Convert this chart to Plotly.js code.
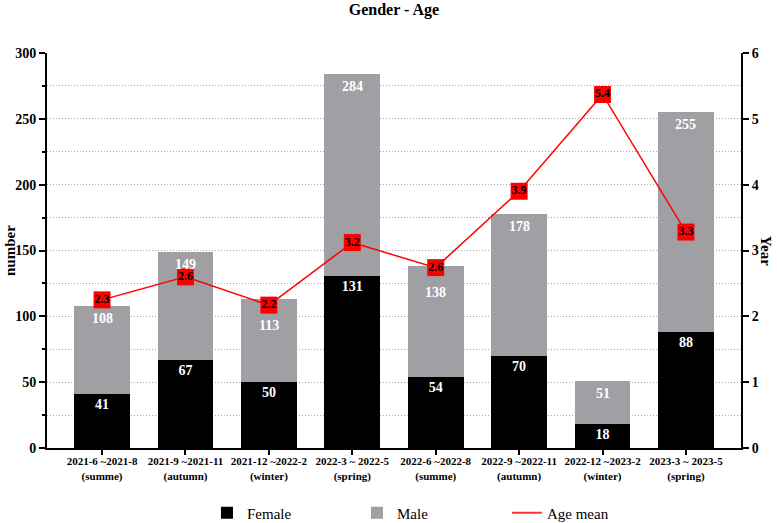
<!DOCTYPE html>
<html>
<head>
<meta charset="utf-8">
<script src="https://cdn.plot.ly/plotly-3.0.1.min.js"></script>
<style>html,body{margin:0;padding:0;background:#fff}#chart{width:777px;height:523px}</style>
</head>
<body>
<div id="chart"></div>
<script>
const categories = [
  "2021-6 ~2021-8<br>(summe)",
  "2021-9 ~2021-11<br>(autumn)",
  "2021-12 ~2022-2<br>(winter)",
  "2022-3 ~ 2022-5<br>(spring)",
  "2022-6 ~2022-8<br>(summe)",
  "2022-9 ~2022-11<br>(autumn)",
  "2022-12 ~2023-2<br>(winter)",
  "2023-3 ~ 2023-5<br>(spring)"
];
const female = [41, 67, 50, 131, 54, 70, 18, 88];
const total = [108, 149, 113, 284, 138, 178, 51, 255];
const ageMean = [2.25, 2.6, 2.17, 3.12, 2.74, 3.9, 5.37, 3.28];
const ageLabels = ["2.3", "2.6", "2.2", "3.2", "2.6", "3.9", "5.4", "3.3"];

const male = total.map((t, i) => t - female[i]);
const xIdx = categories.map((c, i) => i);
const FONT = "Liberation Serif, Times New Roman, serif";

// total labels sit inside the top of each bar; two are pushed lower to clear the age markers
const pushedDown = [2, 4];
const totalAnnotations = total.map((t, i) => ({
  x: i, y: t, xref: "x", yref: "y", text: "<b>" + t + "</b>", showarrow: false,
  xanchor: "center", yanchor: "top", yshift: pushedDown.includes(i) ? -17 : -3,
  font: {family: FONT, size: 14, color: "#ffffff"}
}));

const traces = [
  {
    type: "bar", name: "Female", x: xIdx, y: female,
    marker: {color: "#000000"},
    text: female.map(String), textposition: "inside", insidetextanchor: "end",
    textfont: {family: FONT, size: 14, color: "#ffffff", weight: "bold"},
    constraintext: "none", hoverinfo: "y"
  },
  {
    type: "bar", name: "Male", x: xIdx, y: male,
    marker: {color: "#a0a0a4"}, hoverinfo: "y"
  },
  {
    type: "scatter", name: "Age mean", x: xIdx, y: ageMean, yaxis: "y2",
    mode: "lines+markers+text", showlegend: false,
    line: {color: "#ff0000", width: 1.5},
    marker: {symbol: "square", size: 17, color: "#ff0000", line: {width: 0}},
    text: ageLabels, textposition: "middle center",
    textfont: {family: FONT, size: 12, color: "#000000", weight: "bold"}
  },
  {
    type: "scatter", name: "Age mean", x: [null], y: [null], yaxis: "y2",
    mode: "lines", line: {color: "#ff3333", width: 2}, showlegend: true
  }
];

const layout = {
  width: 777, height: 523,
  margin: {l: 47, r: 36, t: 53, b: 75},
  paper_bgcolor: "#ffffff", plot_bgcolor: "#ffffff",
  font: {family: FONT, color: "#000000"},
  barmode: "stack", bargap: 0.33,
  showlegend: true,
  title: {text: "<b>Gender - Age</b>", font: {family: FONT, size: 16, color: "#000"},
          x: 0.507, xanchor: "center", y: 0.992, yanchor: "top", yref: "container"},
  xaxis: {
    range: [-0.66, 7.66], tickmode: "array", tickvals: xIdx, ticktext: categories, tickangle: 0,
    showline: true, linewidth: 2, linecolor: "#000", ticks: "outside", ticklen: 5, tickwidth: 2,
    tickcolor: "#000", showgrid: false, zeroline: false, automargin: false,
    ticklabelstandoff: -3,
    tickfont: {family: FONT, size: 11, color: "#000", weight: "bold"}
  },
  yaxis: {
    range: [0, 300], dtick: 50, showline: true, linewidth: 2, linecolor: "#000",
    ticks: "outside", ticklen: 6, tickwidth: 2, tickcolor: "#000", automargin: false,
    showgrid: true, gridcolor: "#a8a8a8", griddash: "1px,2px", gridwidth: 1, zeroline: false,
    minor: {dtick: 25, showgrid: true, gridcolor: "#a8a8a8", griddash: "1px,2px", gridwidth: 1,
            ticks: "outside", ticklen: 3, tickwidth: 2, tickcolor: "#000"},
    tickfont: {family: FONT, size: 14, color: "#000", weight: "bold"}
  },
  yaxis2: {
    range: [0, 6], dtick: 1, overlaying: "y", side: "right",
    showline: true, linewidth: 2, linecolor: "#000", automargin: false,
    ticks: "outside", ticklen: 6, tickwidth: 2, tickcolor: "#000",
    showgrid: false, zeroline: false,
    tickfont: {family: FONT, size: 14, color: "#000", weight: "bold"}
  },
  legend: {
    orientation: "h", x: 0.2305, xanchor: "left",
    yref: "container", y: 0.019, yanchor: "middle",
    entrywidth: 105, entrywidthmode: "pixels", bgcolor: "rgba(0,0,0,0)",
    font: {family: FONT, size: 15, color: "#000"}, traceorder: "normal"
  },
  annotations: totalAnnotations.concat([
    {text: "<b>number</b>", xref: "paper", yref: "paper", x: -0.054, y: 0.5,
     xanchor: "center", yanchor: "middle", textangle: -90, showarrow: false,
     font: {family: FONT, size: 15, color: "#000"}},
    {text: "<b>Year</b>", xref: "paper", yref: "paper", x: 1.037, y: 0.5,
     xanchor: "center", yanchor: "middle", textangle: 90, showarrow: false,
     font: {family: FONT, size: 15, color: "#000"}}
  ])
};

Plotly.newPlot("chart", traces, layout, {displayModeBar: false, staticPlot: true});
</script>
</body>
</html>
